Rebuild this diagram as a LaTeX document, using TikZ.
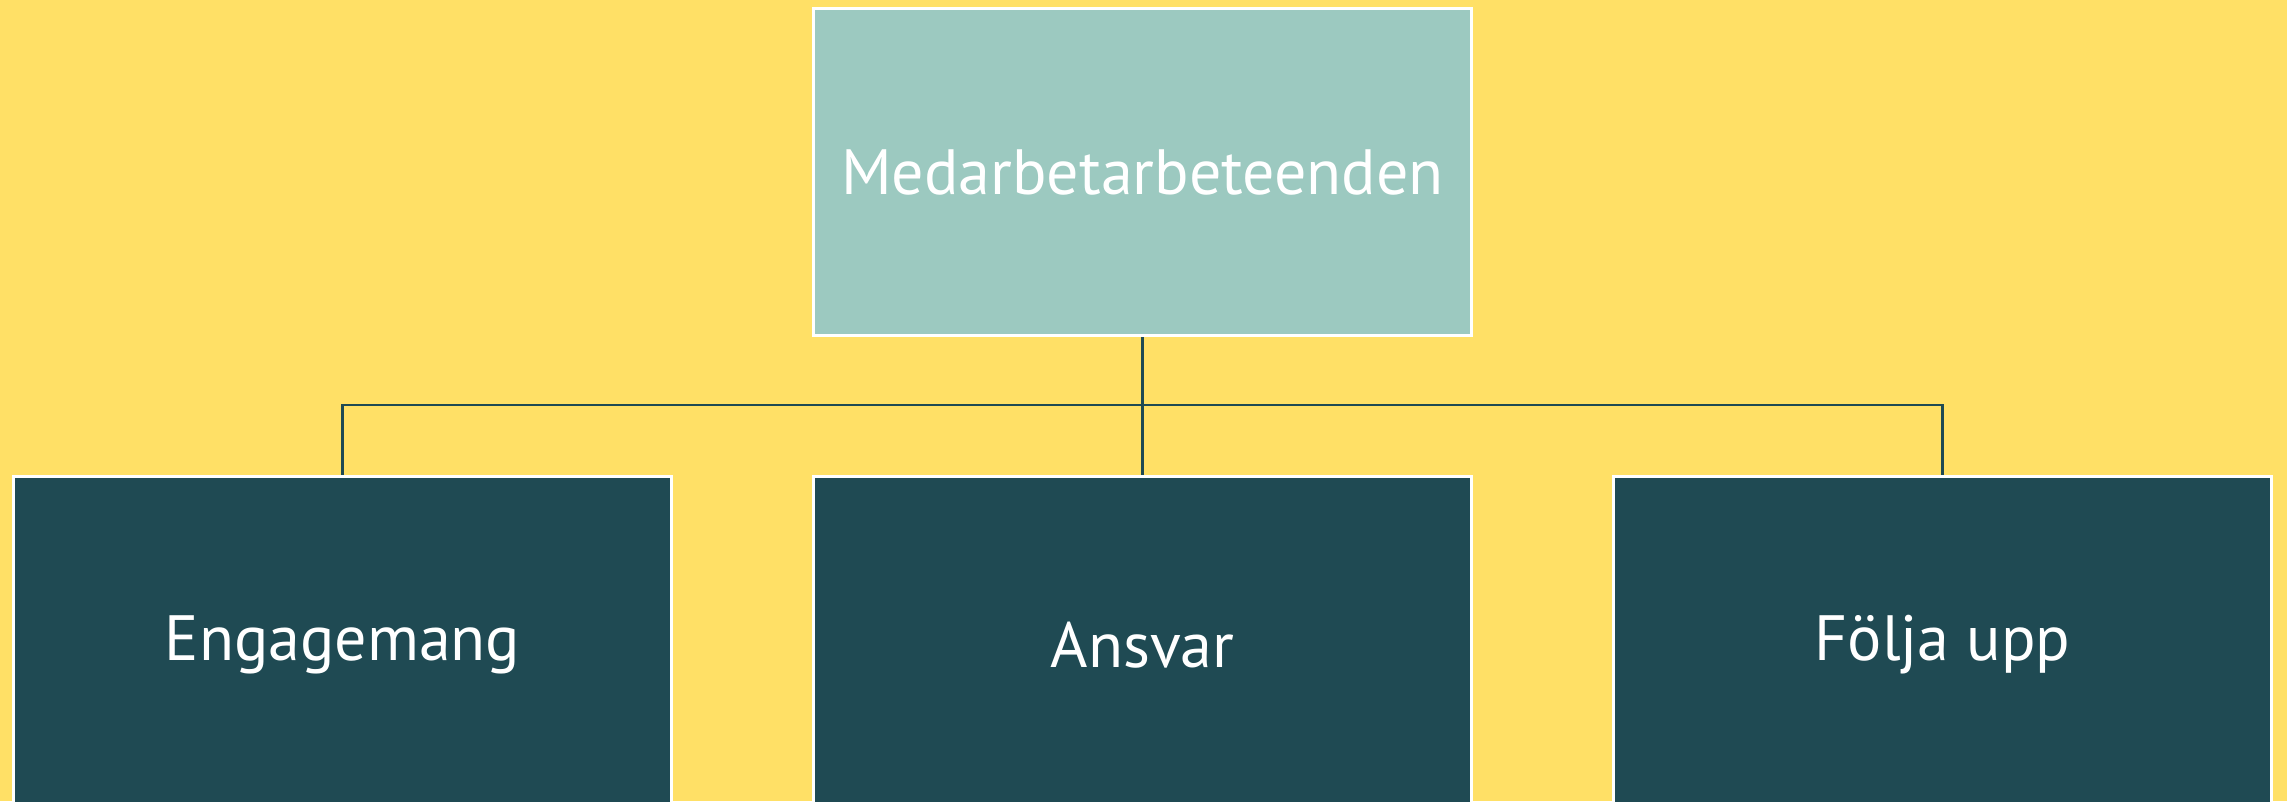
\documentclass[tikz,border=0pt]{standalone}
\usepackage{fontspec}
\setmainfont{PT Sans}
\usetikzlibrary{positioning}

\definecolor{bgyellow}{HTML}{FFE066}
\definecolor{lightteal}{HTML}{9CC9C0}
\definecolor{darkteal}{HTML}{1F4A53}

\begin{document}
\begin{tikzpicture}[x=1pt, y=-1pt, line join=miter,
    box/.style={draw=white, line width=3pt, minimum width=658pt, minimum height=327pt,
                inner sep=0pt, text=white, font=\fontsize{64}{76}\selectfont},
    topbox/.style={box, fill=lightteal},
    subbox/.style={box, fill=darkteal, minimum height=337pt},
    link/.style={draw=darkteal, line width=2.5pt}]

    % background and page size
    \fill[bgyellow] (0,0) rectangle (2287,801);
    \useasboundingbox (0,0) rectangle (2287,801);

    % the main box
    \node[topbox] (beteenden) at (1142.5,172) {Medarbetarbeteenden};

    % the three boxes below it
    \node[subbox] (engagemang) at (342.5,645)  {Engagemang};
    \node[subbox] (ansvar)     at (1142.5,645) {Ansvar};
    \node[subbox] (folja)      at (1942.5,645) {Följa upp};

    %--- connectors
    \coordinate (split) at (1142.5,405);
    \draw[link] (beteenden.south) -- (split);
    \draw[link] (split) -| (engagemang.north);
    \draw[link] (split) -- (ansvar.north);
    \draw[link] (split) -| (folja.north);

\end{tikzpicture}
\end{document}
